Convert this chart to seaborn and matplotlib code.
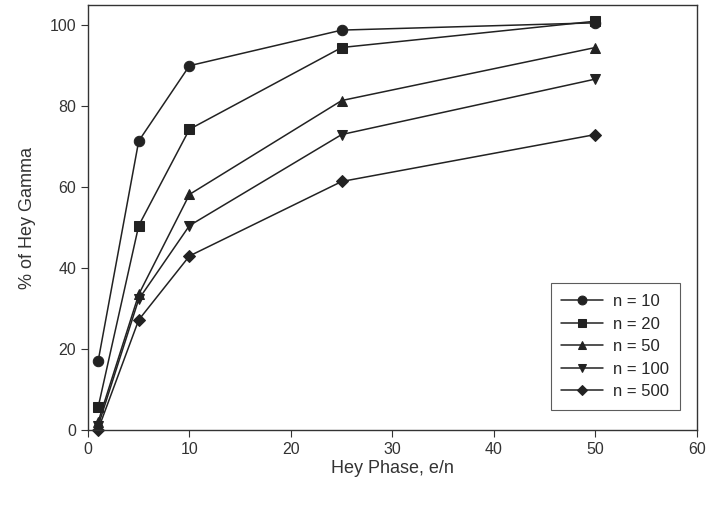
import seaborn as sns
import matplotlib.pyplot as plt
import pandas as pd

# Data
x_vals = [1, 5, 10, 25, 50]
n10 = [17.0, 71.4, 90.0, 98.8, 100.6]
n20 = [5.6, 50.5, 74.3, 94.5, 101.0]
n50 = [2.0, 33.5, 58.2, 81.4, 94.5]
n100 = [1.0, 32.3, 50.5, 73.0, 86.7]
n500 = [0.1, 27.2, 43.0, 61.4, 73.0]
labels = ['n = 10', 'n = 20', 'n = 50', 'n = 100', 'n = 500']
markers = ['o', 's', '^', 'v', 'D']

df = pd.concat([
    pd.DataFrame({'x': x_vals, 'y': ys, 'series': lab})
    for ys, lab in zip([n10, n20, n50, n100, n500], labels)
])

sns.set_style("ticks")
plt.rcParams['font.family'] = ['Liberation Sans', 'DejaVu Sans']

fig = plt.figure(figsize=(7.06, 5.05), dpi=100)
ax = fig.add_axes([0.1246, 0.1485, 0.8626, 0.8416])

for lab, m in zip(labels, markers):
    sub = df[df['series'] == lab]
    ms = 6.5 if m == 'D' else 7.5
    sns.lineplot(data=sub, x='x', y='y', ax=ax, color='#222222', marker=m,
                 markersize=ms, markeredgecolor='#222222', linewidth=1.1,
                 label=lab, clip_on=False)

ax.set_xlim(0, 60)
ax.set_ylim(0, 105)
ax.set_xticks([0, 10, 20, 30, 40, 50, 60])
ax.set_yticks([0, 20, 40, 60, 80, 100])
ax.tick_params(direction='out', length=5, width=0.8, labelsize=11.5, colors='#333333')
for s in ax.spines.values():
    s.set_color('#333333')
    s.set_linewidth(1.0)

ax.set_xlabel('Hey Phase, e/n', fontsize=13, labelpad=2, color='#333333')
ax.set_ylabel('% of Hey Gamma', fontsize=13, labelpad=10, color='#333333')

leg = ax.legend(loc='lower right', bbox_to_anchor=(0.972, 0.047), borderaxespad=0,
                fontsize=12, frameon=True, fancybox=False, edgecolor='#333333',
                handlelength=2.5, borderpad=0.65, labelspacing=0.45,
                markerscale=0.85, handletextpad=0.6)
leg.get_frame().set_linewidth(0.8)

fig.savefig('out.png', dpi=100)
